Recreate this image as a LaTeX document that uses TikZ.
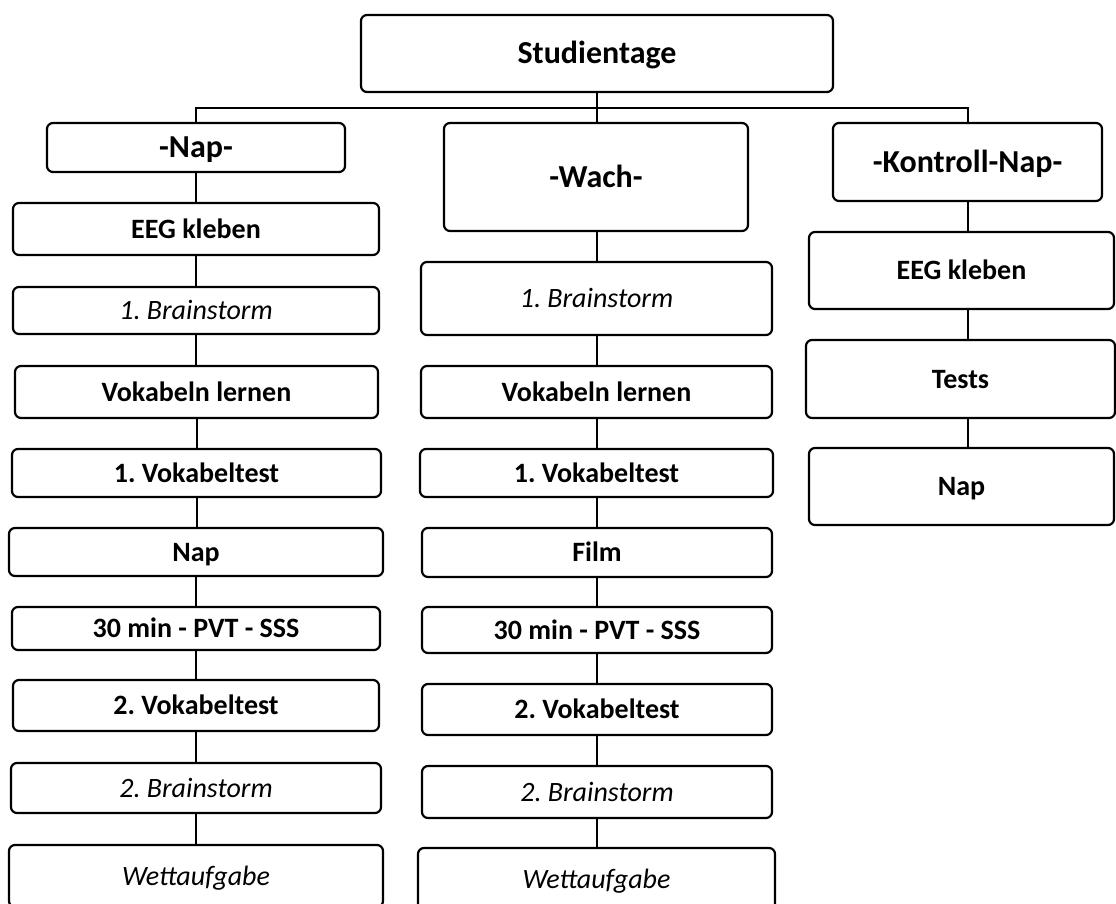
\documentclass[tikz,border=0pt]{standalone}
\usepackage{fontspec}
\setmainfont{Carlito}
\frenchspacing
\begin{document}
\begin{tikzpicture}[x=1pt,y=-1pt,
  base/.style={draw=black, rounded corners=6pt, line width=2.2pt, inner sep=0pt},
  bbox/.style={base, font=\fontsize{28}{32}\selectfont\bfseries, text height=23.6pt, text depth=5.6pt},
  ibox/.style={base, font=\fontsize{28}{32}\selectfont\itshape, text height=23.6pt, text depth=5.6pt},
  hbox/.style={base, font=\fontsize{32}{36}\selectfont\bfseries, text height=27pt, text depth=6.4pt},
  conn/.style={line width=2pt}]
\useasboundingbox (0,0) rectangle (1116,904);
% top
\node[hbox, minimum width=472pt, minimum height=77pt] (stud) at (597,53.5) {Studientage};
\node[hbox, minimum width=298pt, minimum height=49pt] (napH) at (196,147.5) {-Nap-};
\node[hbox, minimum width=304pt, minimum height=108pt] (wachH) at (596,177) {-Wach-};
\node[hbox, minimum width=269pt, minimum height=78pt] (konH) at (967.5,162) {-Kontroll-Nap-};
% Nap column
\node[bbox, minimum width=366pt, minimum height=52pt] (n1) at (196,229) {EEG kleben};
\node[ibox, minimum width=366pt, minimum height=47pt] (n2) at (196,310.5) {1. Brainstorm};
\node[bbox, minimum width=363pt, minimum height=52pt] (n3) at (196.5,392) {Vokabeln lernen};
\node[bbox, minimum width=369pt, minimum height=48pt] (n4) at (196.5,473) {1. Vokabeltest};
\node[bbox, minimum width=374pt, minimum height=48pt] (n5) at (196,552) {Nap};
\node[bbox, minimum width=368pt, minimum height=43pt] (n6) at (196,628.5) {30 min - PVT - SSS};
\node[bbox, minimum width=366pt, minimum height=51pt] (n7) at (196,705.5) {2. Vokabeltest};
\node[ibox, minimum width=370pt, minimum height=50pt] (n8) at (196,788) {2. Brainstorm};
\node[ibox, minimum width=374pt, minimum height=62pt] (n9) at (196,876) {Wettaufgabe};
% Wach column
\node[ibox, minimum width=351pt, minimum height=73pt] (w1) at (596.5,298.5) {1. Brainstorm};
\node[bbox, minimum width=351pt, minimum height=52pt] (w2) at (596.5,392) {Vokabeln lernen};
\node[bbox, minimum width=353pt, minimum height=48pt] (w3) at (596.5,473) {1. Vokabeltest};
\node[bbox, minimum width=350pt, minimum height=49pt] (w4) at (597,552.5) {Film};
\node[bbox, minimum width=350pt, minimum height=46pt] (w5) at (597,630) {30 min - PVT - SSS};
\node[bbox, minimum width=350pt, minimum height=51pt] (w6) at (597,709.5) {2. Vokabeltest};
\node[ibox, minimum width=350pt, minimum height=52pt] (w7) at (597,792) {2. Brainstorm};
\node[ibox, minimum width=357pt, minimum height=63pt] (w8) at (596.5,879.5) {Wettaufgabe};
% Kontroll column
\node[bbox, minimum width=305pt, minimum height=77pt] (k1) at (961.5,270.5) {EEG kleben};
\node[bbox, minimum width=309pt, minimum height=78pt] (k2) at (960.5,379) {Tests};
\node[bbox, minimum width=305pt, minimum height=77pt] (k3) at (961.5,486.5) {Nap};
% connectors
\coordinate (hl) at (0,108);
\draw[conn] (stud.south) -- (stud.south |- wachH.north);
\draw[conn] (napH.north) -- (napH.north |- hl) -- (konH.north |- hl) -- (konH.north);
\foreach \a/\b in {napH/n1,n1/n2,n2/n3,n3/n4,n4/n5,n5/n6,n6/n7,n7/n8,n8/n9}
  \draw[conn] (\a.south) -- (\a.south |- \b.north);
\foreach \a/\b in {wachH/w1,w1/w2,w2/w3,w3/w4,w4/w5,w5/w6,w6/w7,w7/w8}
  \draw[conn] (\a.south -| stud.south) -- (stud.south |- \b.north);
\draw[conn] (konH.south) -- (konH.south |- k1.north);
\draw[conn] (konH.south |- k1.south) -- (konH.south |- k2.north);
\draw[conn] (konH.south |- k2.south) -- (konH.south |- k3.north);
\end{tikzpicture}
\end{document}
